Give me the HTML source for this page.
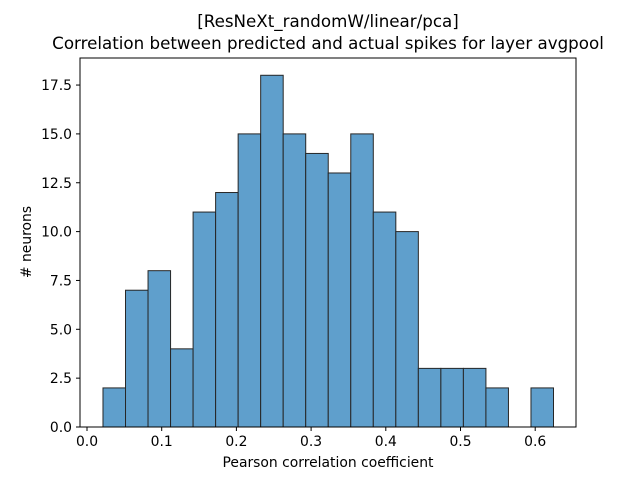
<!DOCTYPE html>
<html><head><meta charset="utf-8"><style>
body{margin:0;background:#fff;}
svg text{font-family:"DejaVu Sans","Liberation Sans",sans-serif;fill:#000;}
</style></head><body>
<svg id="chart" width="640" height="480">
<text x="328" y="27" font-size="16.7" text-anchor="middle">[ResNeXt_randomW/linear/pca]</text>
<text x="328" y="49" font-size="16.7" text-anchor="middle">Correlation between predicted and actual spikes for layer avgpool</text>
<g id="bars"></g>
<g id="xticks"></g>
<g id="yticks"></g>
<rect x="80" y="58" width="496" height="369" fill="none" stroke="#000" stroke-width="1"/>
<text x="328" y="467" font-size="13.9" text-anchor="middle">Pearson correlation coefficient</text>
<text transform="translate(31,242) rotate(-90)" font-size="13.9" text-anchor="middle"># neurons</text>
</svg>
<script>
const counts=[2,7,8,4,11,12,15,18,15,14,13,15,11,10,3,3,3,2,0,2];
const binStart=0.0214;
const binEnd=0.6245;
const xTicks=[0.0,0.1,0.2,0.3,0.4,0.5,0.6];
const yTicks=[0,2.5,5,7.5,10,12.5,15,17.5];
const X=v=>87+(v-0)*747;
const Y=v=>427-v*19.54;
const ns="http://www.w3.org/2000/svg";
const bw=(binEnd-binStart)/counts.length;
const bars=document.getElementById('bars');
counts.forEach((c,i)=>{
  if(c<=0)return;
  const r=document.createElementNS(ns,'rect');
  const x0=X(binStart+i*bw),x1=X(binStart+(i+1)*bw);
  r.setAttribute('x',x0);r.setAttribute('width',x1-x0);
  r.setAttribute('y',Y(c));r.setAttribute('height',Y(0)-Y(c));
  r.setAttribute('fill','#5f9fcc');r.setAttribute('stroke','#262626');r.setAttribute('stroke-width','1');
  
  
  bars.appendChild(r);
});
const xt=document.getElementById('xticks');
xTicks.forEach(v=>{
  const l=document.createElementNS(ns,'line');
  l.setAttribute('x1',X(v));l.setAttribute('x2',X(v));l.setAttribute('y1',427);l.setAttribute('y2',431);l.setAttribute('stroke','#000');
  
  
  xt.appendChild(l);
  const t=document.createElementNS(ns,'text');
  t.setAttribute('x',X(v));t.setAttribute('y',446);t.setAttribute('font-size','13.9');t.setAttribute('text-anchor','middle');
  t.textContent=v.toFixed(1);
  
  
  xt.appendChild(t);
});
const yt=document.getElementById('yticks');
yTicks.forEach(v=>{
  const l=document.createElementNS(ns,'line');
  l.setAttribute('x1',76);l.setAttribute('x2',80);l.setAttribute('y1',Y(v));l.setAttribute('y2',Y(v));l.setAttribute('stroke','#000');
  
  
  yt.appendChild(l);
  const t=document.createElementNS(ns,'text');
  t.setAttribute('x',72);t.setAttribute('y',Y(v)+5);t.setAttribute('font-size','13.9');t.setAttribute('text-anchor','end');
  t.textContent=v.toFixed(1);
  
  
  yt.appendChild(t);
});
</script>
</body></html>
